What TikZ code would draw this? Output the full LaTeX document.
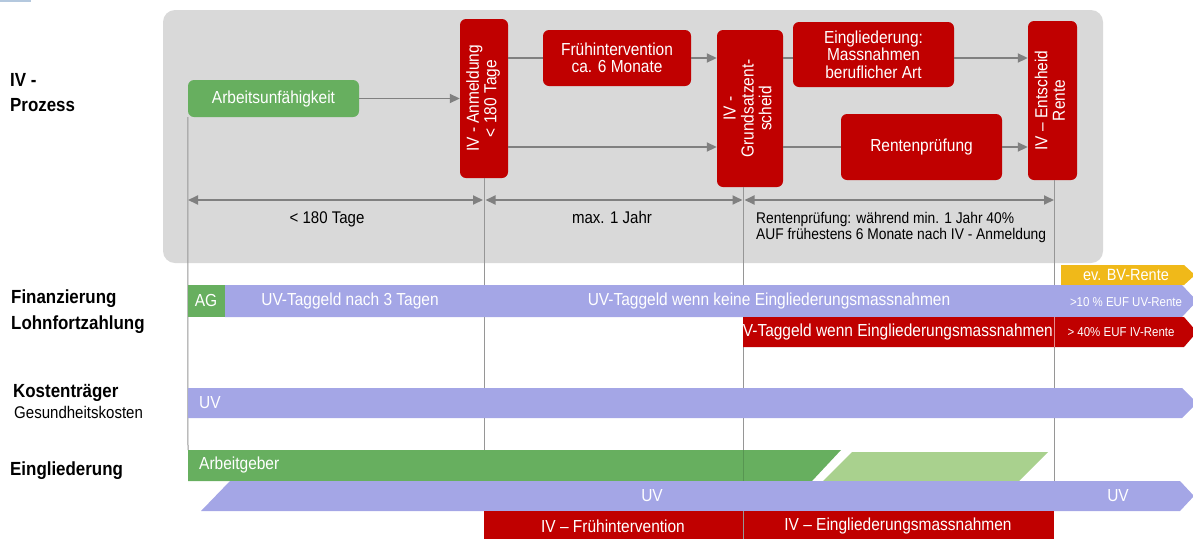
\documentclass[tikz,border=0pt]{standalone}
\usepackage{fontspec}
\setmainfont[FakeStretch=0.89]{Liberation Sans}
\usetikzlibrary{arrows.meta}
\definecolor{ivred}{RGB}{192,0,0}
\definecolor{boxgray}{RGB}{217,217,217}
\definecolor{arrgray}{RGB}{128,128,128}
\definecolor{linegray}{RGB}{150,150,150}
\definecolor{agreen}{RGB}{103,175,95}
\definecolor{lgreen}{RGB}{169,209,142}
\definecolor{lav}{RGB}{164,166,230}
\definecolor{gold}{RGB}{240,185,25}
\definecolor{markblue}{RGB}{180,200,222}
\newcommand\fontBox{\fontsize{17.4}{17.5}\selectfont}
\newcommand\fontDim{\fontsize{16.9}{18}\selectfont}
\newcommand\fontNote{\fontsize{15.5}{16}\selectfont}
\newcommand\fontSmall{\fontsize{12.9}{14}\selectfont}
\newcommand\fontBV{\fontsize{16.3}{17}\selectfont}
\newcommand\fontLab{\fontsize{19}{20}\selectfont\bfseries}
\newcommand\fontGes{\fontsize{16.9}{18}\selectfont}
\begin{document}
\begin{tikzpicture}[x=1pt,y=-1pt,
  procbox/.style={fill=ivred, text=white, rounded corners=6pt, inner sep=0pt, align=center, font=\fontBox},
  arr/.style={draw=arrgray, line width=1.8pt, -{Triangle[length=10pt,width=9pt]}},
  conn/.style={draw=arrgray, line width=1.8pt},
  dimarr/.style={draw=arrgray, line width=1.8pt, {Triangle[length=10pt,width=9pt]}-{Triangle[length=10pt,width=9pt]}},
  vline/.style={draw=linegray, line width=1pt},
  bartext/.style={text=white, font=\fontBox, inner sep=0pt},
  smalltext/.style={text=white, font=\fontSmall, inner sep=0pt},
  lab/.style={anchor=base west, inner sep=0pt, font=\fontLab},
  dimtext/.style={inner sep=0pt, font=\fontDim, anchor=base},
  notetext/.style={inner sep=0pt, font=\fontNote, anchor=base west},
]
\useasboundingbox (0,0) rectangle (1193,539);
\clip (0,0) rectangle (1193,539);
\fill[markblue] (0,0) rectangle (31,1.6);

% background panel
\node[fill=boxgray, rounded corners=12pt, inner sep=0pt, minimum width=940pt, minimum height=253pt] (bg) at (633,136.5) {};

% left labels
\node[lab] (l1) at (10,86) {IV -};
\node[lab] (l2) at (10,111) {Prozess};
\node[lab] (l3) at (11,303) {Finanzierung};
\node[lab] (l4) at (11,329) {Lohnfortzahlung};
\node[lab] (l5) at (13,397) {Kostenträger};
\node[anchor=base west, inner sep=0pt, font=\fontGes] (l6) at (14,418) {Gesundheitskosten};
\node[lab] (l7) at (10,475) {Eingliederung};

% process boxes
\node[procbox, fill=agreen, minimum width=171pt, minimum height=37pt] (au) at (273.5,98.5) {Arbeitsunfähigkeit};
\node[procbox, minimum width=48pt, minimum height=159pt] (anm) at (484,98.5)
  {\rotatebox{90}{\begin{tabular}{@{}c@{}}IV - Anmeldung\\< 180 Tage\end{tabular}}};
\node[procbox, minimum width=148pt, minimum height=56pt] (fi) at (617,58) {Frühintervention\\ca. 6 Monate};
\node[procbox, minimum width=66pt, minimum height=157pt] (gse) at (750,108.5)
  {\rotatebox{90}{\begin{tabular}{@{}c@{}}IV -\\Grundsatzent-\\scheid\end{tabular}}};
\node[procbox, minimum width=161pt, minimum height=65pt] (ein) at (873.5,54.5) {Eingliederung:\\Massnahmen\\beruflicher Art};
\node[procbox, minimum width=161pt, minimum height=66pt] (rp) at (921.5,147) {Rentenprüfung};
\node[procbox, minimum width=49pt, minimum height=159pt] (ent) at (1052.5,100.5)
  {\rotatebox{90}{\begin{tabular}{@{}c@{}}IV – Entscheid\\Rente\end{tabular}}};

% helper coordinates
\coordinate (yA) at (0,58);
\coordinate (v0b) at (188,450);
\coordinate (v1t) at (484,178);
\coordinate (v1b) at (484,539);
\coordinate (v2t) at (743,187);
\coordinate (v2b) at (743,539);
\coordinate (v3t) at (1054,180);
\coordinate (v3b) at (1054,481);
\coordinate (d0) at (188,200);
\coordinate (d1) at (484,200);
\coordinate (d2) at (743,200);
\coordinate (d3) at (1054,200);

% connectors
\draw[arr] (au.east) -- (au.east -| anm.west);
\draw[conn] (anm.east |- fi.west) -- (fi.west);
\draw[arr] (fi.east) -- (fi.east -| gse.west);
\draw[arr] (anm.east |- rp.west) -- (gse.west |- rp.west);
\draw[conn] (gse.east |- yA) -- (ein.west |- yA);
\draw[arr] (ein.east |- yA) -- (ent.west |- yA);
\draw[conn] (gse.east |- rp.west) -- (rp.west);
\draw[arr] (rp.east) -- (rp.east -| ent.west);

% vertical time lines
\draw[vline] (au.south west) -- (v0b);
\draw[vline] (v1t) -- (v1b);
\draw[vline] (v2t) -- (v2b);
\draw[vline] (v3t) -- (v3b);

% dimension arrows
\draw[dimarr, shorten >=1pt] (d0) -- (d1);
\draw[dimarr, shorten <=1.5pt, shorten >=0.5pt] (d1) -- (d2);
\draw[dimarr, shorten <=1.5pt] (d2) -- (d3);
\node[dimtext] (t1) at (327,223) {< 180 Tage};
\node[dimtext] (t2) at (612,223) {max. 1 Jahr};
\node[notetext] (t3) at (756,223) {Rentenprüfung: während min. 1 Jahr 40\%};
\node[notetext] (t4) at (756,239) {AUF frühestens 6 Monate nach IV - Anmeldung};

% Finanzierung row
\fill[gold] (1061,265) -- (1184,265) -- (1195,275) -- (1184,285) -- (1061,285) -- cycle;
\node[text=white, font=\fontBV, inner sep=0pt] (bv) at (1126,275) {ev. BV-Rente};
\fill[agreen] (188,285) rectangle (225,317);
\fill[lav] (225,285) -- (1182,285) -- (1197,301) -- (1182,317) -- (225,317) -- cycle;
\fill[ivred] (743,317) -- (1184,317) -- (1197,332) -- (1184,347) -- (743,347) -- cycle;
\draw[white!55!ivred, line width=0.8pt] (1054,317) -- (1054,347);
\node[bartext] (ag) at (206,301) {AG};
\node[bartext] (uvt1) at (350,301) {UV-Taggeld nach 3 Tagen};
\node[bartext] (uvt2) at (769,301) {UV-Taggeld wenn keine Eingliederungsmassnahmen};
\node[smalltext] (uvr) at (1126,302) {>10 \% EUF UV-Rente};
\node[bartext, anchor=east] (ivt) at (1053,332) {IV-Taggeld wenn Eingliederungsmassnahmen};
\node[smalltext] (ivr) at (1121,332) {> 40\% EUF IV-Rente};

% Kostentraeger row
\fill[lav] (188,388) -- (1182,388) -- (1197,403) -- (1182,418) -- (188,418) -- cycle;
\node[bartext, anchor=west] (kuv) at (199,403) {UV};

% Eingliederung row
\fill[agreen] (188,450) -- (841,450) -- (812,481) -- (188,481) -- cycle;
\draw[agreen!85!black, line width=0.6pt] (743,450) -- (743,481);
\fill[lgreen] (852,452) -- (1048,452) -- (1019,481) -- (823,481) -- cycle;
\node[bartext, anchor=west] (agb) at (199,465) {Arbeitgeber};
\fill[lav] (230,481) -- (1180,481) -- (1194,496) -- (1180,511) -- (201,511) -- cycle;
\node[bartext] (euv1) at (652,496) {UV};
\node[bartext] (euv2) at (1118,496) {UV};
\fill[ivred] (484,511) rectangle (1054,539);
\draw[linegray, line width=0.8pt] (743,511) -- (743,539);
\node[bartext] (ivf) at (613,526) {IV – Frühintervention};
\node[bartext] (ive) at (898,526) {IV – Eingliederungsmassnahmen};
\end{tikzpicture}
\end{document}
